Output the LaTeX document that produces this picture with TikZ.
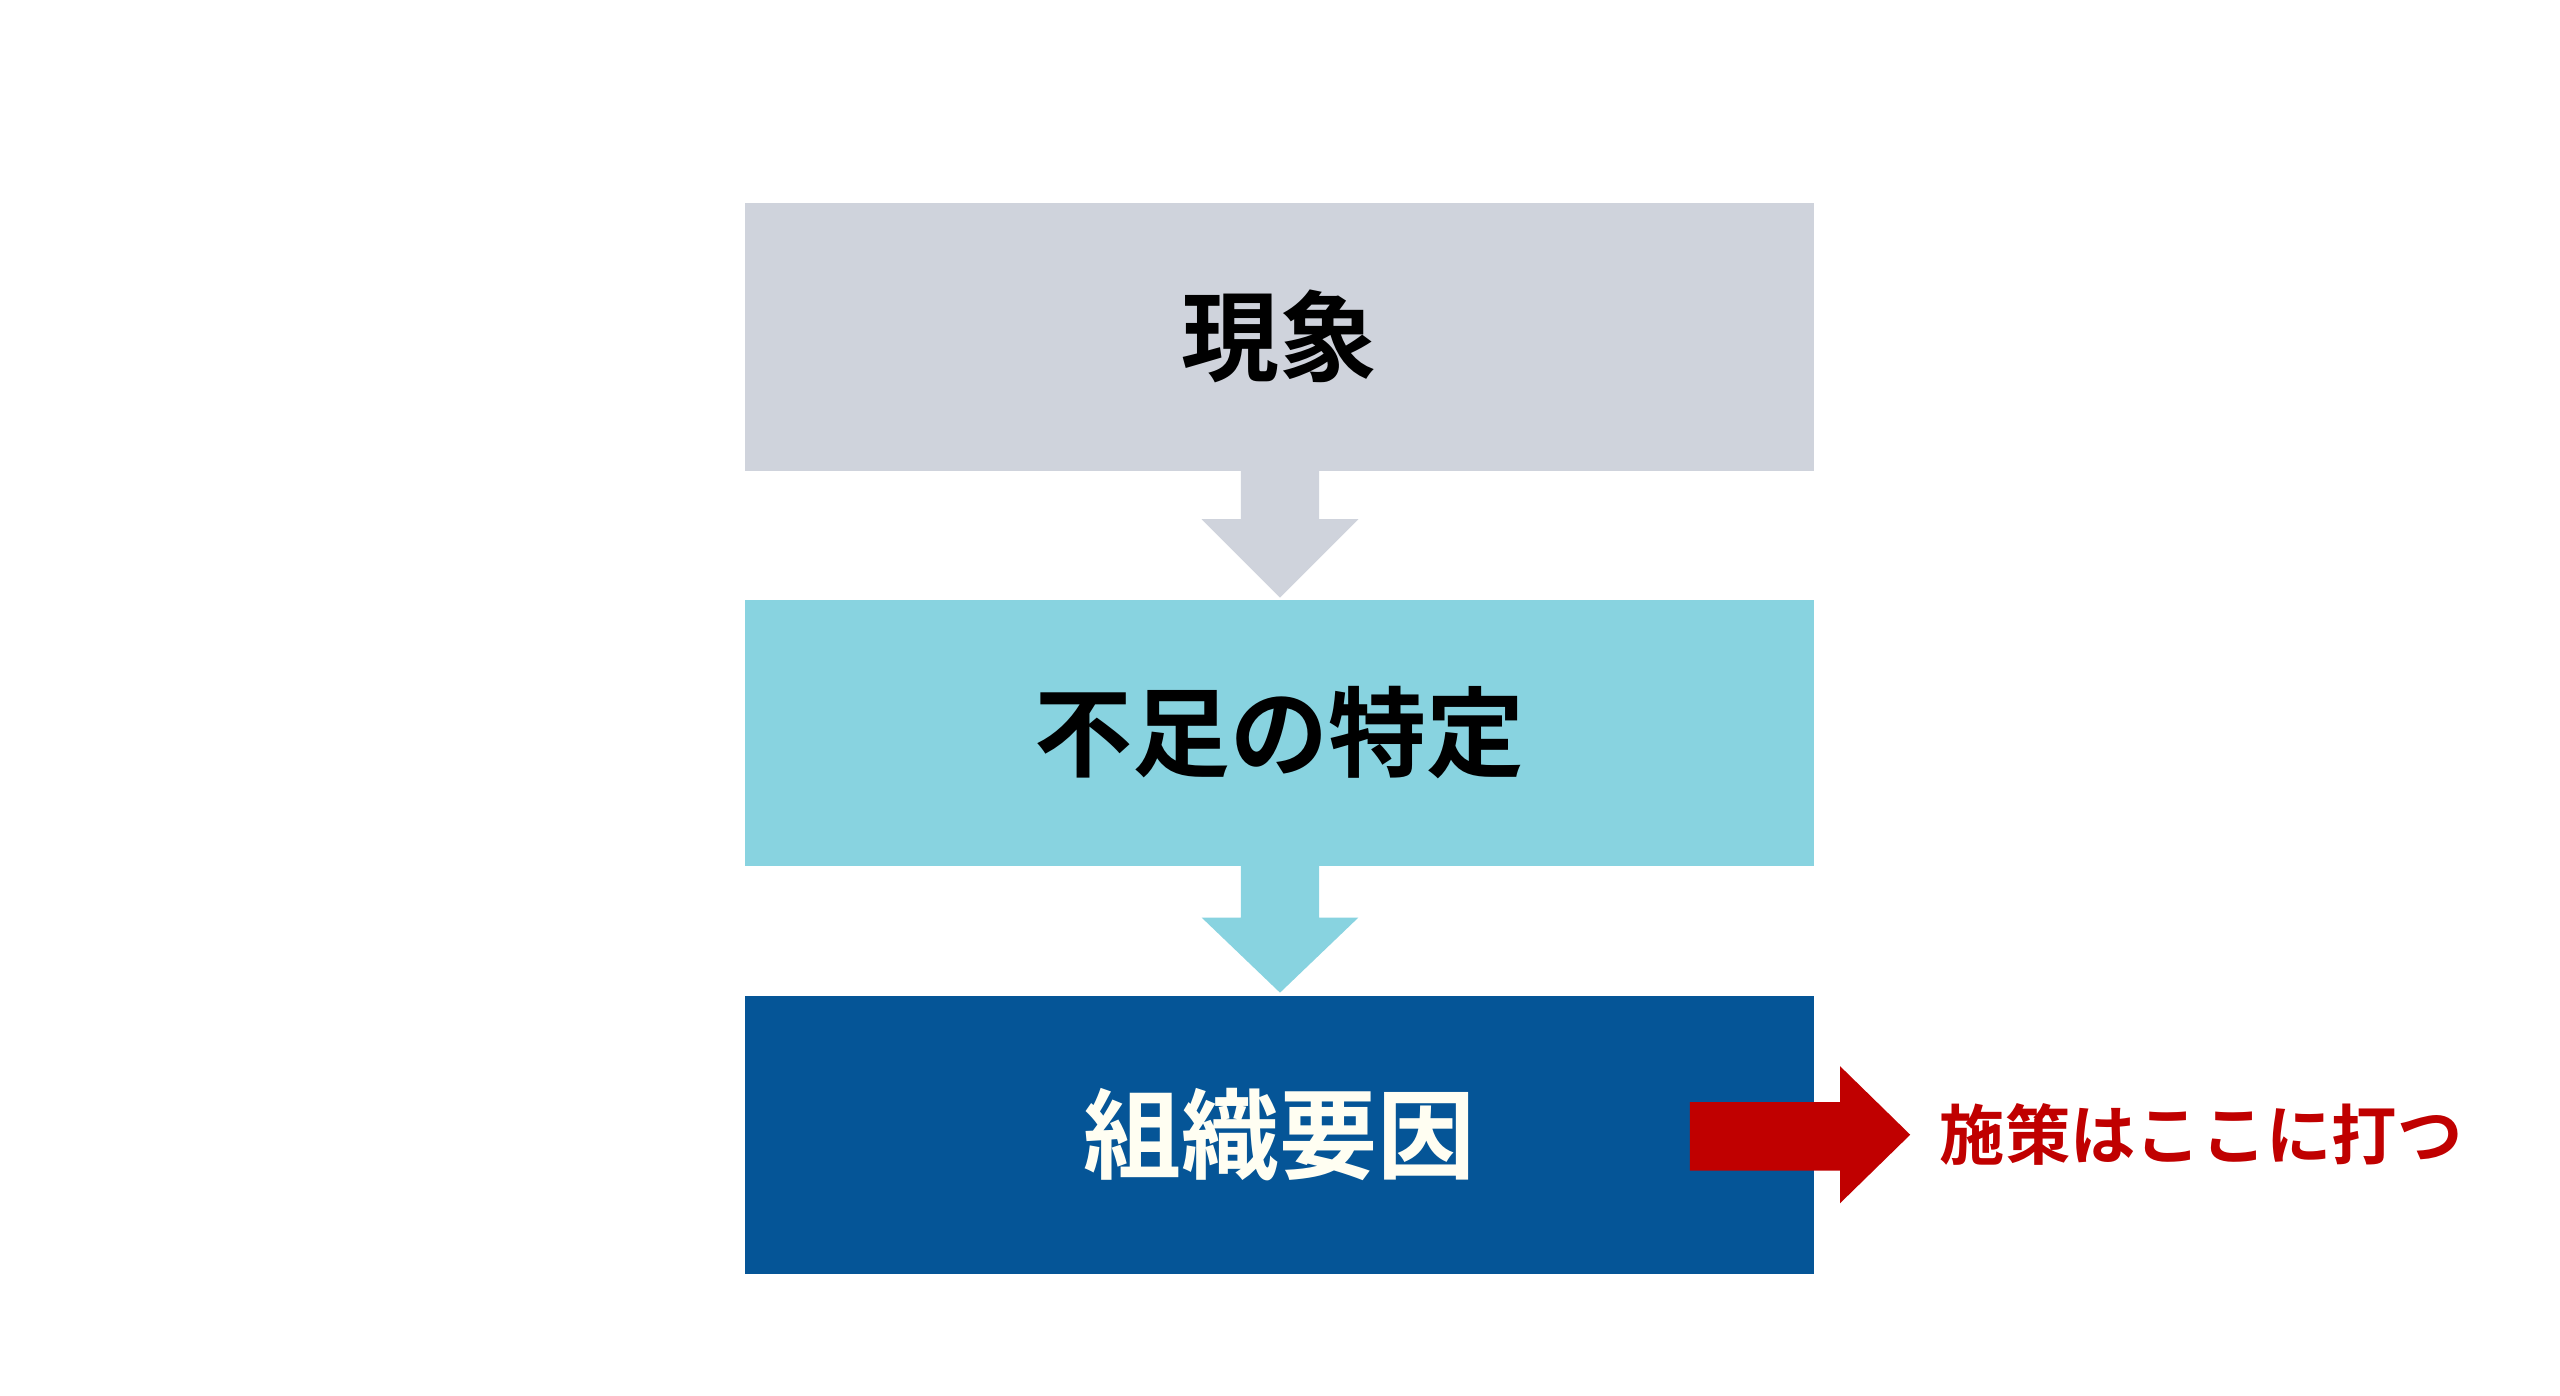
\documentclass[tikz,border=0pt]{standalone}
\usepackage{fontspec}
\newfontfamily\cjk{Noto Sans CJK JP}[BoldFont={Noto Sans CJK JP Bold}]
\definecolor{g1}{HTML}{CFD3DC}
\definecolor{c1}{HTML}{88D3E0}
\definecolor{b1}{HTML}{055597}
\definecolor{r1}{HTML}{C00000}
\begin{document}
\begin{tikzpicture}[x=1pt,y=-1pt,
  box/.style={minimum width=655pt,inner sep=0pt,font=\cjk\bfseries\fontsize{60}{60}\selectfont}]
\useasboundingbox[fill=white] (0,0) rectangle (1568,855);
\node[box,fill=g1,minimum height=164pt,anchor=north west] (a) at (456,124) {現象};
\node[box,fill=c1,minimum height=163pt,anchor=north west] (b) at (456,367) {不足の特定};
\node[box,fill=b1,text=white!95!yellow,minimum height=170pt,anchor=north west] (c) at (456,610) {組織要因};
\fill[g1] (760,288) -- (808,288) -- (808,318) -- (832,318) -- (784,366) -- (736,318) -- (760,318) -- cycle;
\fill[c1] (760,530) -- (808,530) -- (808,562) -- (832,562) -- (784,608) -- (736,562) -- (760,562) -- cycle;
\fill[r1] (1035,675) -- (1127,675) -- (1127,653) -- (1170,695) -- (1127,737) -- (1127,717) -- (1035,717) -- cycle;
\node[anchor=west,text=r1,font=\cjk\bfseries\fontsize{40}{40}\selectfont,inner sep=0pt] (t) at (1188,695) {施策はここに打つ};
\end{tikzpicture}
\end{document}
